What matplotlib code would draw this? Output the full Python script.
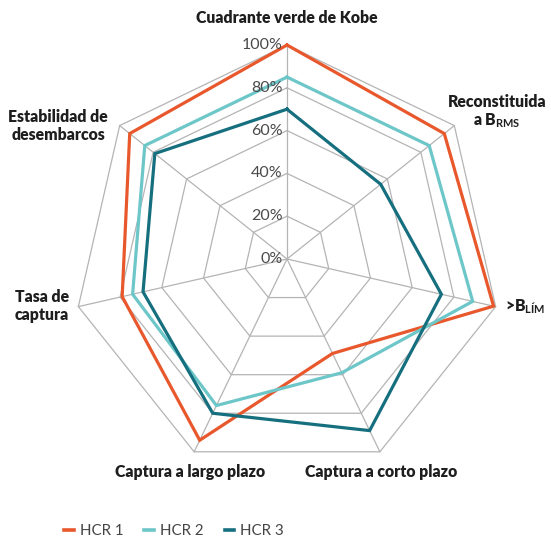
import numpy as np
import matplotlib
matplotlib.use("Agg")
import matplotlib.pyplot as plt

plt.rcParams['font.family'] = ['Lato', 'DejaVu Sans']
plt.rcParams['mathtext.fontset'] = 'custom'
plt.rcParams['mathtext.rm'] = 'Lato:bold'
plt.rcParams['mathtext.bf'] = 'Lato:bold'

categories = ["Cuadrante verde de Kobe", "Reconstituida\na B$_{\\mathrm{RMS}}$",
              ">B$_{\\mathrm{LÍM}}$", "Captura a corto plazo", "Captura a largo plazo",
              "Tasa de\ncaptura", "Estabilidad de\ndesembarcos"]
hcr1 = [100, 94, 99, 49, 94, 79, 94]
hcr2 = [85, 85, 89, 59, 76, 74, 85]
hcr3 = [70, 56, 74, 89, 80, 69, 79]
series_names = ["HCR 1", "HCR 2", "HCR 3"]
colors = ["#E8582C", "#6DC6C8", "#166F7E"]
ring_levels = [20, 40, 60, 80, 100]
tick_labels = ["0%", "20%", "40%", "60%", "80%", "100%"]

W, H = 551, 538
fig = plt.figure(figsize=(W / 100, H / 100), dpi=100)
cx, cy, R = 287, 259, 214
ax = fig.add_axes([(cx - R) / W, (H - cy - R) / H, 2 * R / W, 2 * R / H], projection='polar')
ax.set_theta_zero_location('N')
ax.set_theta_direction(-1)
ax.set_ylim(0, 100)
ax.axis('off')

n = len(categories)
angles = np.linspace(0, 2 * np.pi, n, endpoint=False)
closed = np.concatenate([angles, angles[:1]])

grid_col = "#b4b4b4"
for r in ring_levels:
    ax.plot(closed, [r] * (n + 1), color=grid_col, lw=0.9, clip_on=False, zorder=1)
for a in angles:
    ax.plot([a, a], [0, 100], color=grid_col, lw=0.9, clip_on=False, zorder=1)

for vals, c in zip([hcr1, hcr2, hcr3], colors):
    v = list(vals) + [vals[0]]
    ax.plot(closed, v, color=c, lw=2.3, clip_on=False, zorder=3, solid_joinstyle='miter')

# radial tick labels
for lvl, lab in zip([0] + ring_levels, tick_labels):
    ax.annotate(lab, xy=(0, lvl), xytext=(-3, 0), textcoords='offset points',
                ha='right', va='center', fontsize=11.5, color='#4a4a4a', zorder=4)

# category labels (figure pixel positions)
lab_pos = [(287, 18, 'center'), (497, 112, 'center'), (505, 307, 'left'),
           (381, 472, 'center'), (190, 472, 'center'), (42, 306, 'center'),
           (58, 126, 'center')]
for txt, (x, y, ha) in zip(categories, lab_pos):
    fig.text(x / W, 1 - y / H, txt, ha=ha, va='center', fontsize=11.3,
             fontweight='heavy', color='#1e1e1e', linespacing=1.12)

handles = [plt.Line2D([], [], color=c, lw=2.6) for c in colors]
fig.legend(handles, series_names, loc='center', bbox_to_anchor=(174 / W, 1 - 531 / H),
           ncol=3, frameon=False, handlelength=0.65, handletextpad=0.4,
           columnspacing=1.4, fontsize=10.8, labelcolor='#444444')

fig.savefig("out.png", dpi=100)
